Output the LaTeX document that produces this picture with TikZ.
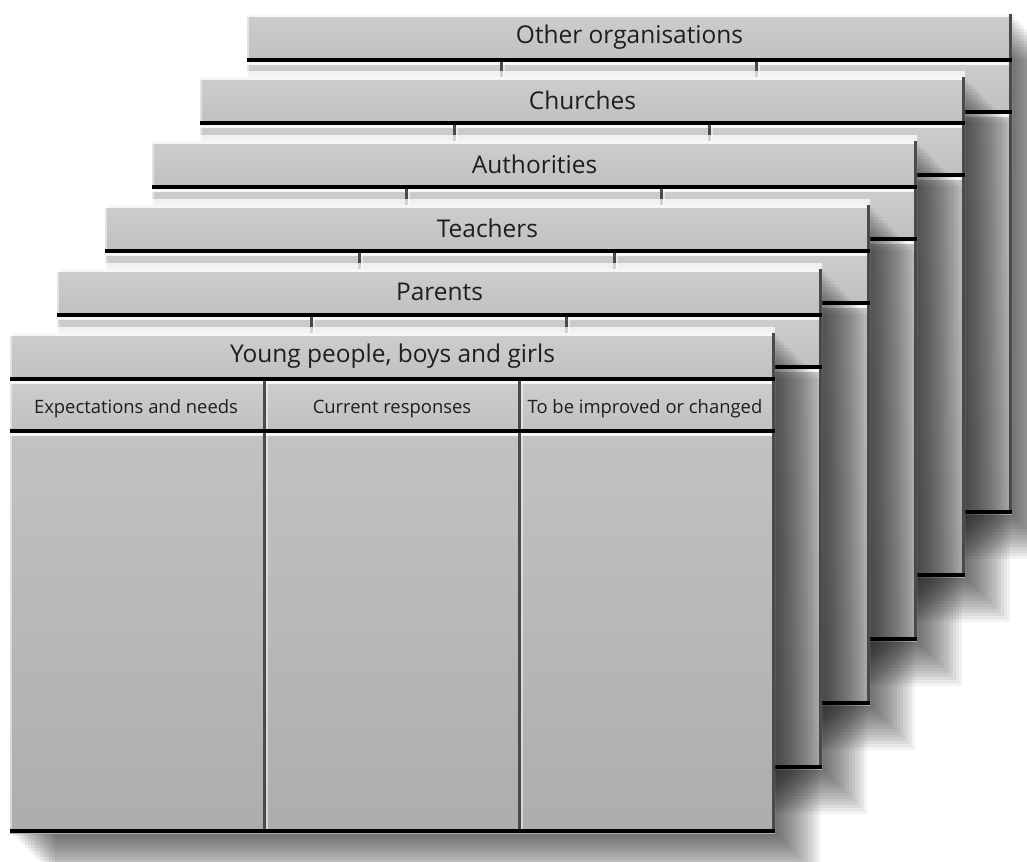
\documentclass[tikz,border=0pt]{standalone}
\usepackage{fontspec}
\setmainfont{Open Sans}
\usepackage{tikz}

\definecolor{hdrtop}{HTML}{CDCDCD}
\definecolor{hdrbot}{HTML}{C0C0C0}
\definecolor{bodytop}{HTML}{C2C2C2}
\definecolor{bodybot}{HTML}{ADADAD}
\definecolor{bevelgray}{HTML}{4A4A4A}
\definecolor{inkgray}{HTML}{1E1E1E}

\tikzset{
  shadowlayer/.style={fill=black, fill opacity=0.05},
  hdrcell/.style={top color=hdrtop, bottom color=hdrbot},
  bodycell/.style={top color=bodytop, bottom color=bodybot},
  hdrtext/.style={text=inkgray, font=\fontsize{17.4}{21}\selectfont, inner sep=0pt},
  coltext/.style={text=inkgray, font=\fontsize{13.1}{16}\selectfont, inner sep=0pt},
}

% one bevelled cell: #1 style, (#2,#3) top left, (#4,#5) bottom right
\newcommand{\bevelcell}[5]{%
  \fill[#1] (#2,#3) rectangle (#4,#5);
  \fill[white, opacity=0.85] (#2,#3) rectangle (#4,#3+2.5);
  \fill[white, opacity=0.5] (#2,#3) rectangle (#2+2,#5);
  \fill[bevelgray] (#4-3,#3) rectangle (#4,#5);
  \fill[black] (#2,#5-4.5) rectangle (#4,#5);
}

% one card of the stack: #1,#2 top left corner, #3 node name, #4 title
\newcommand{\stackcard}[4]{%
  \begin{scope}[shift={(#1,#2)}]
    % drop shadow
    \foreach \s in {3,6,...,45}
      \fill[shadowlayer] (\s,\s) rectangle (765+\s,500+\s);
    % light glow on the card behind
    \fill[white, opacity=0.75] (0,-6) rectangle (765,0);
    % title bar
    \bevelcell{hdrcell}{0}{0}{765}{48}
    \node[hdrtext] (#3) at (382.5,23) {#4};
    % column heads
    \bevelcell{hdrcell}{0}{48}{256}{100}
    \bevelcell{hdrcell}{256}{48}{511}{100}
    \bevelcell{hdrcell}{511}{48}{765}{100}
    % column bodies
    \bevelcell{bodycell}{0}{100}{256}{500}
    \bevelcell{bodycell}{256}{100}{511}{500}
    \bevelcell{bodycell}{511}{100}{765}{500}
  \end{scope}
}

\begin{document}
\begin{tikzpicture}[x=0.025cm, y=-0.025cm]
  \useasboundingbox (0,0) rectangle (1027,862);

  % cards, back to front
  \stackcard{247}{14}{other}{Other organisations}
  \stackcard{200}{77}{churches}{Churches}
  \stackcard{152}{141}{authorities}{Authorities}
  \stackcard{105}{205}{teachers}{Teachers}
  \stackcard{57}{269}{parents}{Parents}
  \stackcard{10}{333}{young}{Young people, boys and girls}

  % column heads of the front card
  \node[coltext] (needs) at (136,409) {Expectations and needs};
  \node[coltext] (current) at (392,409) {Current responses};
  \node[coltext] (improve) at (645,409) {To be improved or changed};
\end{tikzpicture}
\end{document}
